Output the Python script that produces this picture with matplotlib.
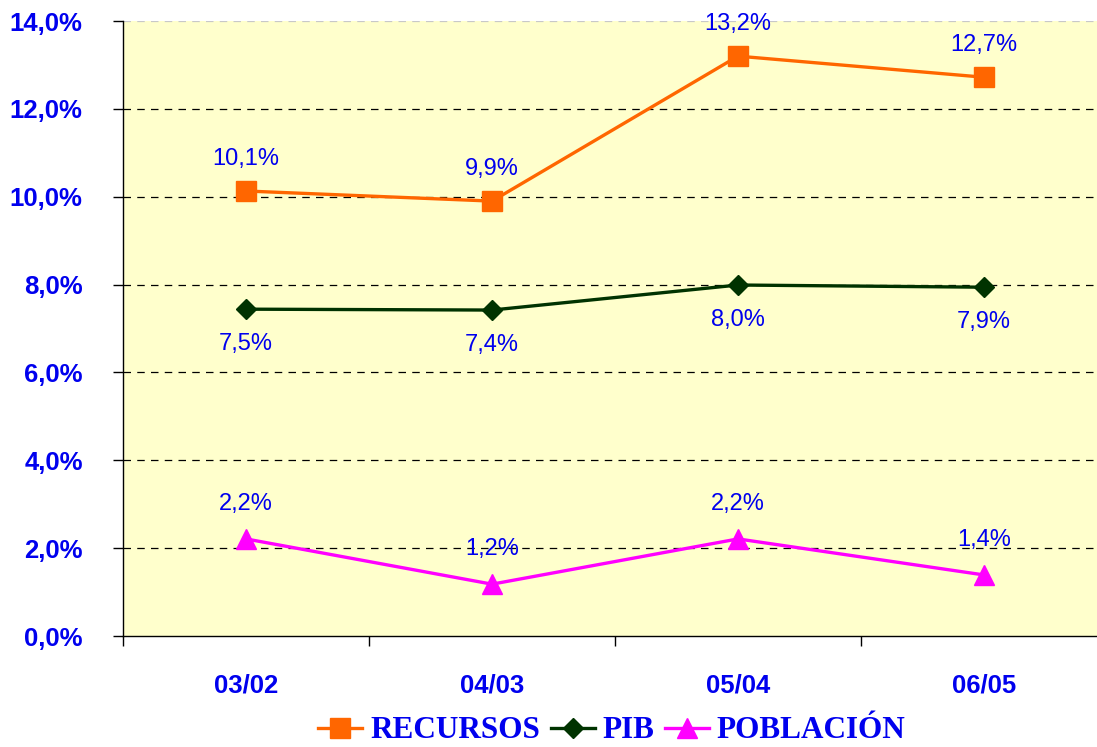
# Recursos vs PIB vs Población, variación interanual
import matplotlib
matplotlib.use("Agg")
import matplotlib.pyplot as plt

# Datos
periodos = ['03/02', '04/03', '05/04', '06/05']
recursos = [10.13, 9.90, 13.20, 12.72]
pib = [7.44, 7.42, 7.99, 7.94]
poblacion = [2.21, 1.18, 2.21, 1.39]

lab_recursos = ['10,1%', '9,9%', '13,2%', '12,7%']
lab_pib = ['7,5%', '7,4%', '8,0%', '7,9%']
lab_poblacion = ['2,2%', '1,2%', '2,2%', '1,4%']

yticks = [0, 2, 4, 6, 8, 10, 12, 14]

azul = '#0000EE'
plt.rcParams['font.family'] = ['Liberation Sans', 'DejaVu Sans']

fig = plt.figure(figsize=(10.97, 7.47), dpi=100)
ax = fig.add_axes([123 / 1097, 111 / 747, 984 / 1097, 615 / 747])
ax.set_facecolor('#FFFFCC')

x = range(len(periodos))

# gridlines
for v in yticks[1:]:
    col = '#C8C8C8' if v == yticks[-1] else 'black'
    ax.axhline(v, color=col, linestyle=(0, (6, 5)), linewidth=0.9, zorder=1)

ax.plot(x, recursos, color='#FF6600', marker='s', markersize=14, linewidth=2.4,
        label='RECURSOS', zorder=3)
ax.plot(x, pib, color='#003300', marker='D', markersize=10, linewidth=2.4,
        label='PIB', zorder=3)
ax.plot(x, poblacion, color='#FF00FF', marker='^', markersize=15, linewidth=2.4,
        label='POBLACIÓN', zorder=3)

# etiquetas de datos
for i in x:
    ax.annotate(lab_recursos[i], (i, recursos[i]), xytext=(0, 23), textcoords='offset points',
                ha='center', va='center', fontsize=17, color=azul)
    ax.annotate(lab_pib[i], (i, pib[i]), xytext=(0, -25), textcoords='offset points',
                ha='center', va='center', fontsize=17, color=azul)
    ax.annotate(lab_poblacion[i], (i, poblacion[i]), xytext=(0, 25), textcoords='offset points',
                ha='center', va='center', fontsize=17, color=azul)

ax.set_xlim(-0.5, len(periodos) - 0.5)
ax.set_ylim(0, 14)

ax.set_yticks(yticks)
ax.set_yticklabels([f'{v:.1f}%'.replace('.', ',') for v in yticks],
                   fontsize=18.5, fontweight='bold', color=azul)
ax.tick_params(axis='y', direction='out', length=7, width=1, pad=22)

ax.set_xticks(list(x))
ax.set_xticklabels(periodos, fontsize=18.5, fontweight='bold', color=azul)
ax.set_xticks([i - 0.5 for i in range(len(periodos) + 1)], minor=True)
ax.tick_params(axis='x', which='major', length=0, pad=27)
ax.tick_params(axis='x', which='minor', direction='out', length=7, width=1)

for s in ['top', 'right']:
    ax.spines[s].set_visible(False)
ax.spines['left'].set_linewidth(1)
ax.spines['bottom'].set_linewidth(1)

fig.legend(loc='center', bbox_to_anchor=(612 / 1097, 1 - 731 / 747), ncol=3,
           frameon=False, handlelength=1.4, handletextpad=0.25, columnspacing=0.35,
           prop={'family': 'Liberation Serif', 'weight': 'bold', 'size': 22.5},
           labelcolor=azul)

fig.savefig('out.png', dpi=100)
